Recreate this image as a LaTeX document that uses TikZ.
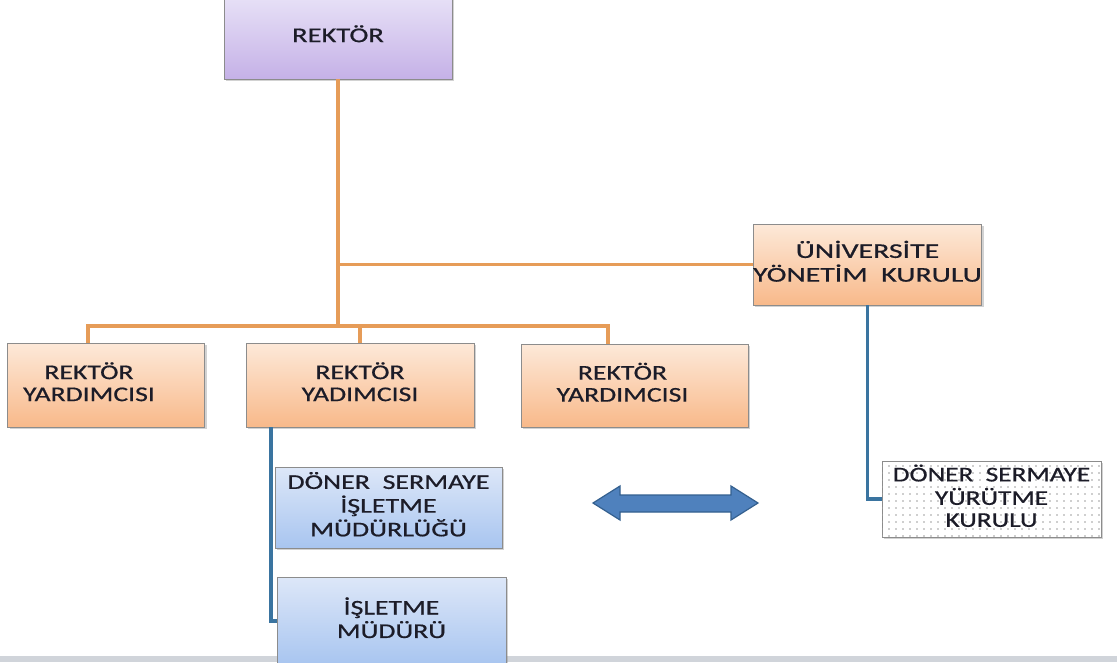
\documentclass[tikz,border=0pt]{standalone}
\usepackage{fontspec}
\setmainfont{Carlito}[FakeBold=0.6]
\usepackage{graphicx}
\usetikzlibrary{shadows,patterns.meta}
\definecolor{txtc}{HTML}{1C1C28}
\definecolor{boxline}{HTML}{8C8C8C}
\definecolor{ortop}{HTML}{FDE9D9}
\definecolor{orbot}{HTML}{F8B98A}
\definecolor{bltop}{HTML}{DDE7F8}
\definecolor{blbot}{HTML}{A8C5F0}
\definecolor{putop}{HTML}{E8E2F7}
\definecolor{pubot}{HTML}{C5B1E7}
\definecolor{oline}{HTML}{E69C58}
\definecolor{bline}{HTML}{3A74A0}
\definecolor{arrfill}{HTML}{4F81BD}
\definecolor{arrdraw}{HTML}{34608F}
\definecolor{band}{HTML}{D0D4DA}
\newcommand\widetext[2][1.32]{\scalebox{#1}[1]{\begin{tabular}{@{}c@{}}#2\end{tabular}}}
\tikzset{
  box/.style={draw=boxline, line width=0.8pt, inner sep=0pt, text=txtc,
    font=\fontsize{21}{22}\selectfont,
    drop shadow={shadow xshift=2pt, shadow yshift=-2pt, opacity=0.35}},
  obox/.style={box, top color=ortop, bottom color=orbot},
  bbox/.style={box, top color=bltop, bottom color=blbot},
  pbox/.style={box, top color=putop, bottom color=pubot},
  dbox/.style={box, fill=white, postaction={pattern={Dots[distance=7pt, radius=0.8pt]}, pattern color=gray!75}},
  oconn/.style={draw=oline, line width=3.5pt},
  bconn/.style={draw=bline, line width=3.5pt},
  txtlab/.style={text=txtc, font=\fontsize{21}{22}\selectfont, inner sep=0pt}
}
\begin{document}
\begin{tikzpicture}[x=1pt,y=-1pt]
\useasboundingbox (0,0) rectangle (1117,662);
\fill[white] (0,0) rectangle (1117,662);
\fill[band] (0,656) rectangle (1117,662);

% boxes
\node[pbox, minimum width=228, minimum height=84] (rektor) at (338,37) {\widetext[1.36]{REKTÖR}};
\node[obox, minimum width=225, minimum height=81] (uyk) at (867.5,264.5) {\widetext[1.42]{ÜNİVERSİTE\\YÖNETİM\ \ KURULU}};
\node[obox, minimum width=197, minimum height=84,
  label={[txtlab, xshift=-17pt]center:\widetext{REKTÖR\\YARDIMCISI}}] (ry1) at (106,385) {};
\node[obox, minimum width=228, minimum height=84] (ry2) at (360,385) {\widetext{REKTÖR\\YADIMCISI}};
\node[obox, minimum width=227, minimum height=83,
  label={[txtlab, xshift=-12pt]center:\widetext{REKTÖR\\YARDIMCISI}}] (ry3) at (634.5,385.5) {};
\node[bbox, minimum width=227, minimum height=81] (dsim) at (388.5,507.5) {\widetext[1.33]{DÖNER\ \ SERMAYE\\İŞLETME\\MÜDÜRLÜĞÜ}};
\node[bbox, minimum width=229, minimum height=88] (im) at (391.5,621) {\widetext{İŞLETME\\MÜDÜRÜ}};
\node[dbox, minimum width=219, minimum height=76] (dsyk) at (991.5,499) {\widetext[1.3]{DÖNER\ \ SERMAYE\\YÜRÜTME\\KURULU}};

% orange connectors
\coordinate (b1) at (88,326);
\coordinate (b3) at (608,326);
\draw[oconn] (rektor.south) -- (rektor.south |- b1);
\draw[oconn] (rektor.south |- uyk.west) -- (uyk.west);
\draw[oconn, line join=miter] (ry1.north -| b1) |- (b3) -- (ry3.north -| b3);
\draw[oconn] (ry2.north) -- (ry2.north |- b1);

% blue connectors
\coordinate (l1) at (271,430);
\draw[bconn, line join=miter] (ry2.south -| l1) |- (im.west);
\draw[bconn, line join=miter] (uyk.south) |- (dsyk.west);

% double arrow
\draw[fill=arrfill, draw=arrdraw, line width=1.2pt, line join=miter]
  (593,503) -- (620,486) -- (620,495) -- (731,495) -- (731,486) -- (758,503)
  -- (731,520) -- (731,512) -- (620,512) -- (620,520) -- cycle;
\end{tikzpicture}
\end{document}
